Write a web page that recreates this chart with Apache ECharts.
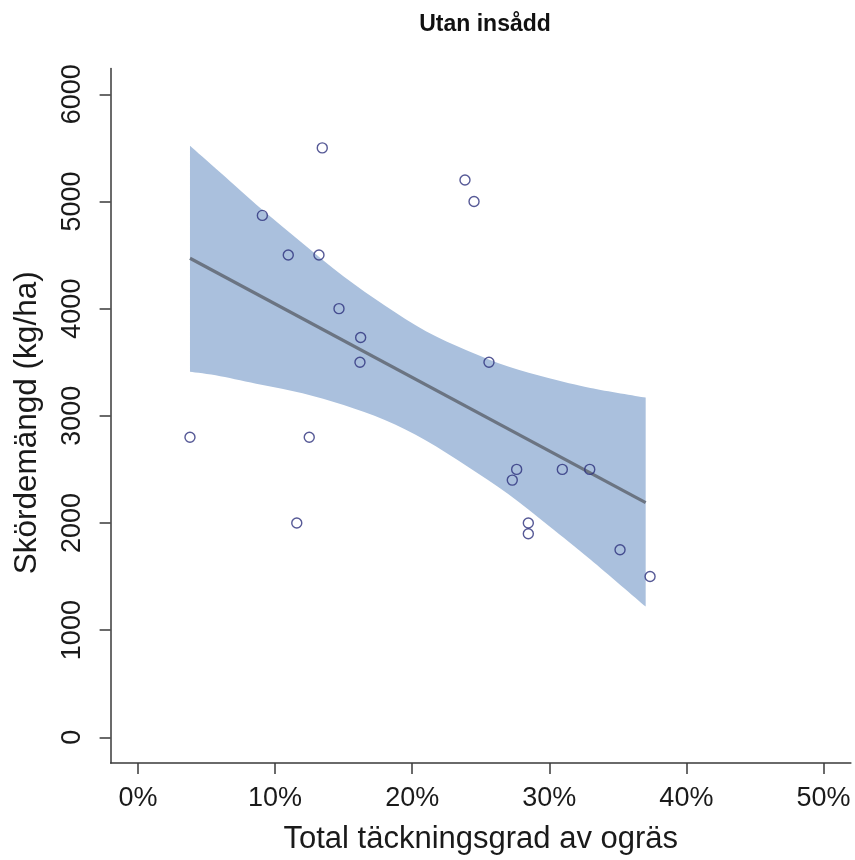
<!DOCTYPE html>
<html>
<head>
<meta charset="utf-8">
<script src="https://cdn.jsdelivr.net/npm/echarts@6/dist/echarts.min.js"></script>
<style>
  html, body { margin: 0; padding: 0; background: #ffffff; }
  #chart { width: 855px; height: 860px; }
</style>
</head>
<body>
<div id="chart"></div>
<script>
// Weed cover (%) and grain yield (kg/ha) for plots without undersown crop
const coverPct = [3.79, 9.07, 10.96, 11.58, 12.49, 13.20, 13.44, 14.66, 16.24, 16.19,
                  23.85, 24.51, 25.60, 27.30, 27.62, 28.47, 28.47, 30.95, 32.95, 35.16, 37.35];
const yieldKg  = [2800, 4870, 4500, 2000, 2800, 4500, 5500, 4000, 3730, 3500,
                  5200, 5000, 3500, 2400, 2500, 2000, 1900, 2500, 2500, 1750, 1500];

// Fitted regression line (end points)
const fitX = [3.79, 37.03];
const fitY = [4470, 2190];

// Confidence band of the fit
const bandX     = [3.79, 6, 9, 12, 15, 18, 21, 24, 27, 30, 33, 37.03];
const bandUpper = [5520, 5270, 4930, 4610, 4300, 4030, 3790, 3610, 3460, 3350, 3260, 3170];
const bandLower = [3410, 3370, 3290, 3210, 3100, 2960, 2770, 2530, 2270, 1970, 1660, 1220];

// Tick positions
const xTicks = [0, 10, 20, 30, 40, 50];
const yTicks = [0, 1000, 2000, 3000, 4000, 5000, 6000];

const FONT = '"Liberation Sans", Arial, Helvetica, sans-serif';
const AXIS_COLOR = '#3a3a3a';
const TEXT_COLOR = '#1a1a1a';

const chart = echarts.init(document.getElementById('chart'), null, { renderer: 'canvas' });

const points = coverPct.map((x, i) => [x, yieldKg[i]]);
const fitLine = fitX.map((x, i) => [x, fitY[i]]);

// Catmull-Rom curve through pixel points, as cubic Bezier path commands
function splineSegments(pts) {
  let d = '';
  for (let i = 0; i < pts.length - 1; i++) {
    const p0 = pts[Math.max(i - 1, 0)];
    const p1 = pts[i];
    const p2 = pts[i + 1];
    const p3 = pts[Math.min(i + 2, pts.length - 1)];
    const c1 = [p1[0] + (p2[0] - p0[0]) / 6, p1[1] + (p2[1] - p0[1]) / 6];
    const c2 = [p2[0] - (p3[0] - p1[0]) / 6, p2[1] - (p3[1] - p1[1]) / 6];
    d += ' C' + c1[0] + ' ' + c1[1] + ' ' + c2[0] + ' ' + c2[1] + ' ' + p2[0] + ' ' + p2[1];
  }
  return d;
}

function renderBand(params, api) {
  const up = bandX.map((x, i) => api.coord([x, bandUpper[i]]));
  const lo = bandX.map((x, i) => api.coord([x, bandLower[i]])).reverse();
  const d = 'M' + up[0][0] + ' ' + up[0][1] + splineSegments(up) +
            ' L' + lo[0][0] + ' ' + lo[0][1] + splineSegments(lo) + ' Z';
  return {
    type: 'path',
    shape: { pathData: d },
    style: { fill: '#aac0dd', stroke: null }
  };
}

chart.setOption({
  animation: false,
  backgroundColor: '#ffffff',
  title: {
    text: 'Utan insådd',
    left: 480,
    top: 8,
    textAlign: 'center',
    textStyle: { fontFamily: FONT, fontSize: 23, fontWeight: 'bold', color: '#111' }
  },
  grid: { left: 110.6, right: 4.1, top: 68.6, bottom: 96.6, containLabel: false },
  xAxis: {
    type: 'value',
    min: -2,
    max: 52,
    name: 'Total täckningsgrad av ogräs',
    nameLocation: 'middle',
    nameGap: 61,
    nameTextStyle: { fontFamily: FONT, fontSize: 31, color: TEXT_COLOR },
    axisLine: { show: true, onZero: false, lineStyle: { color: AXIS_COLOR, width: 1.5 } },
    axisTick: { show: true, inside: false, length: 11, customValues: xTicks,
                lineStyle: { color: AXIS_COLOR, width: 1.5 } },
    axisLabel: { customValues: xTicks, formatter: v => v + '%', margin: 22,
                 fontFamily: FONT, fontSize: 27, color: TEXT_COLOR },
    splitLine: { show: false }
  },
  yAxis: {
    type: 'value',
    min: -240,
    max: 6240,
    name: 'Skördemängd (kg/ha)',
    nameLocation: 'middle',
    nameGap: 67,
    nameTextStyle: { fontFamily: FONT, fontSize: 31.5, color: TEXT_COLOR, padding: [0, 14, 0, 0] },
    axisLine: { show: true, onZero: false, lineStyle: { color: AXIS_COLOR, width: 1.5 } },
    axisTick: { show: true, inside: false, length: 11, customValues: yTicks,
                lineStyle: { color: AXIS_COLOR, width: 1.5 } },
    axisLabel: { customValues: yTicks, rotate: 90, margin: 25, formatter: v => String(v),
                 fontFamily: FONT, fontSize: 27, color: TEXT_COLOR },
    splitLine: { show: false }
  },
  series: [
    {
      name: 'band',
      type: 'custom',
      renderItem: renderBand,
      data: [[bandX[0], bandUpper[0]]],
      silent: true,
      z: 1
    },
    {
      name: 'fit',
      type: 'line',
      data: fitLine,
      symbol: 'none',
      lineStyle: { color: '#6b7482', width: 3.2 },
      silent: true,
      z: 2
    },
    {
      name: 'plots',
      type: 'scatter',
      data: points,
      symbol: 'circle',
      symbolSize: 10,
      itemStyle: { color: 'rgba(0,0,0,0)', borderColor: '#2c2f7c', borderWidth: 1.4 },
      z: 3
    }
  ]
});
</script>
</body>
</html>
